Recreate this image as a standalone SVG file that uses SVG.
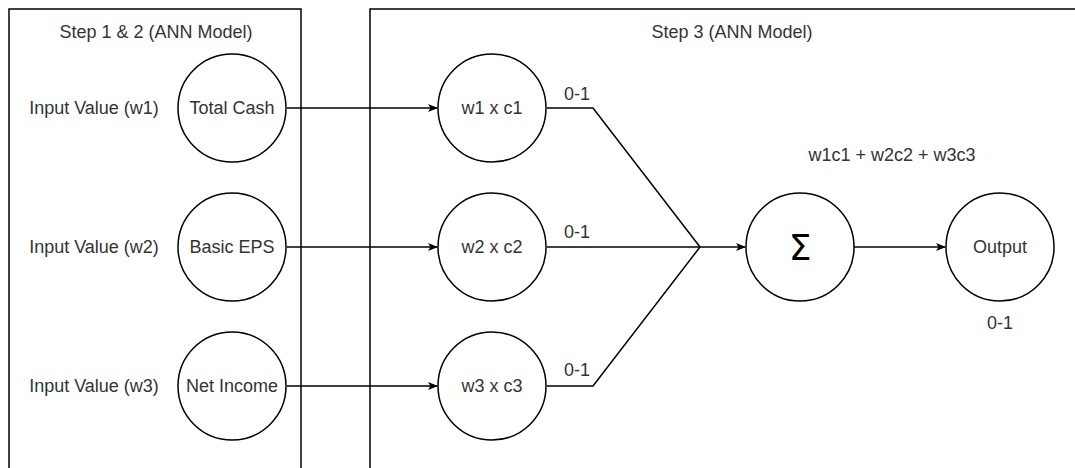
<svg xmlns="http://www.w3.org/2000/svg" width="1075" height="468" viewBox="0 0 1075 468">
  <style>
    .frame { fill: none; stroke: #000; stroke-width: 1.5; }
    .node { fill: #fff; stroke: #000; stroke-width: 1.5; }
    .edge { fill: none; stroke: #000; stroke-width: 1.5; }
    .lbl { font-family: "Liberation Sans", Arial, sans-serif; font-size: 18px; fill: #333; text-anchor: middle; dominant-baseline: central; }
    .sigma { font-family: "DejaVu Sans", "Liberation Sans", sans-serif; font-size: 36px; fill: #000; text-anchor: middle; dominant-baseline: central; }
  </style>
  <defs>
    <marker id="arrow" viewBox="0 0 10 10" refX="9" refY="5" markerWidth="10" markerHeight="10" markerUnits="userSpaceOnUse" orient="auto">
      <path d="M0,1 L10,5 L0,9 L2.5,5 Z" fill="#000"/>
    </marker>
  </defs>
  <rect width="1075" height="468" fill="#fff"/>

  <!-- stage containers -->
  <g id="stage-inputs">
    <rect class="frame" x="9" y="9" width="292" height="480"/>
    <text class="lbl" x="156" y="32">Step 1 &amp; 2 (ANN Model)</text>
  </g>
  <g id="stage-neuron">
    <rect class="frame" x="370" y="9" width="720" height="480"/>
    <text class="lbl" x="732" y="32">Step 3 (ANN Model)</text>
  </g>

  <!-- input labels -->
  <g id="label-w1"><text class="lbl" x="94" y="108">Input Value (w1)</text></g>
  <g id="label-w2"><text class="lbl" x="94" y="247">Input Value (w2)</text></g>
  <g id="label-w3"><text class="lbl" x="94" y="386">Input Value (w3)</text></g>

  <!-- connectors -->
  <g id="connectors">
    <path class="edge" d="M287,108 H437" marker-end="url(#arrow)"/>
    <path class="edge" d="M287,247 H437" marker-end="url(#arrow)"/>
    <path class="edge" d="M287,386 H437" marker-end="url(#arrow)"/>
    <path class="edge" d="M547,108 H593 L700,247"/>
    <path class="edge" d="M547,247 H700"/>
    <path class="edge" d="M547,386 H593 L700,247"/>
    <path class="edge" d="M700,247 H745" marker-end="url(#arrow)"/>
    <path class="edge" d="M854,247 H945" marker-end="url(#arrow)"/>
    <text class="lbl" x="577" y="94">0-1</text>
    <text class="lbl" x="577" y="232">0-1</text>
    <text class="lbl" x="577" y="370">0-1</text>
  </g>

  <!-- input nodes -->
  <g id="node-total-cash">
    <circle class="node" cx="232" cy="108" r="54"/>
    <text class="lbl" x="232" y="108">Total Cash</text>
  </g>
  <g id="node-basic-eps">
    <circle class="node" cx="232" cy="247" r="54"/>
    <text class="lbl" x="232" y="247">Basic EPS</text>
  </g>
  <g id="node-net-income">
    <circle class="node" cx="232" cy="386" r="54"/>
    <text class="lbl" x="232" y="386">Net Income</text>
  </g>

  <!-- weighted products -->
  <g id="node-w1c1">
    <circle class="node" cx="492" cy="108" r="54"/>
    <text class="lbl" x="492" y="108">w1 x c1</text>
  </g>
  <g id="node-w2c2">
    <circle class="node" cx="492" cy="247" r="54"/>
    <text class="lbl" x="492" y="247">w2 x c2</text>
  </g>
  <g id="node-w3c3">
    <circle class="node" cx="492" cy="386" r="54"/>
    <text class="lbl" x="492" y="386">w3 x c3</text>
  </g>

  <!-- summation -->
  <g id="node-sum">
    <circle class="node" cx="800" cy="247" r="54"/>
    <text class="sigma" x="800" y="247">Σ</text>
  </g>
  <text class="lbl" x="892" y="155">w1c1 + w2c2 + w3c3</text>

  <!-- output -->
  <g id="node-output">
    <circle class="node" cx="1000" cy="247" r="54"/>
    <text class="lbl" x="1000" y="247">Output</text>
  </g>
  <text class="lbl" x="1000" y="323">0-1</text>
</svg>
